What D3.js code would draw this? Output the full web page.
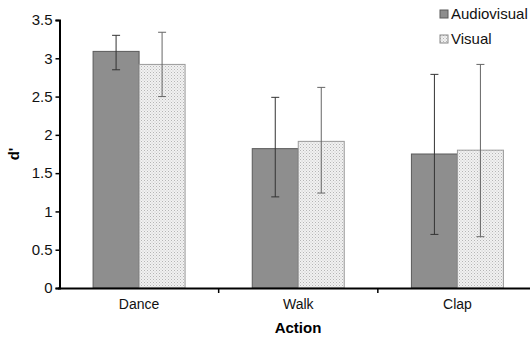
<!DOCTYPE html>
<html>
<head>
<meta charset="utf-8">
<script src="https://cdn.jsdelivr.net/npm/d3@7"></script>
<style>
  body { margin: 0; background: #fff; }
  svg { display: block; font-family: "Liberation Sans", Arial, sans-serif; }
</style>
</head>
<body>
<svg id="chart" width="530" height="342"></svg>
<script>
// values
var actions = ["Dance", "Walk", "Clap"];
var seriesNames = ["Audiovisual", "Visual"];
var audiovisual = [3.09, 1.82, 1.75];
var visual = [2.92, 1.915, 1.80];
var avUpper = [3.30, 2.49, 2.79];
var avLower = [2.85, 1.19, 0.70];
var visUpper = [3.34, 2.62, 2.92];
var visLower = [2.50, 1.24, 0.67];
var yTicks = [0, 0.5, 1, 1.5, 2, 2.5, 3, 3.5];

width = 530;
height = 342;

var svg = d3.select("#chart");

// stipple fill for the Visual bars
var defs = svg.append("defs");
var pat = defs.append("pattern")
    .attr("id", "dots")
    .attr("width", 3).attr("height", 3)
    .attr("patternUnits", "userSpaceOnUse");
pat.append("rect").attr("width", 3).attr("height", 3).attr("fill", "#f1f1f1");
pat.append("rect").attr("x", 0).attr("y", 0).attr("width", 1).attr("height", 1).attr("fill", "#b5b5b5");
pat.append("rect").attr("x", 1.5).attr("y", 1.5).attr("width", 1).attr("height", 1).attr("fill", "#c8c8c8");

const x0 = d3.scaleBand().domain(actions).range([59.5, 537]).paddingInner(0).paddingOuter(0);
const yScale = d3.scaleLinear().domain([0, 3.5]).range([288, 20]);

var barW = 46;

var data = actions.map(function (a, i) {
    return [
        { action: a, series: 0, value: audiovisual[i], hi: avUpper[i], lo: avLower[i] },
        { action: a, series: 1, value: visual[i], hi: visUpper[i], lo: visLower[i] }
    ];
}).flat();

function barX(d) {
    return x0(d.action) + x0.bandwidth() / 2 - barW + d.series * barW;
}

svg.selectAll(".bar")
    .data(data)
    .enter().append("rect")
    .attr("class", "bar")
    .attr("x", barX)
    .attr("y", d => yScale(d.value))
    .attr("width", barW)
    .attr("height", d => yScale(0) - yScale(d.value))
    .attr("fill", d => d.series == 0 ? "#8e8e8e" : "url(#dots)")
    .attr("stroke", d => d.series == 0 ? "#5a5a5a" : "#9a9a9a")
    .attr("stroke-width", 1);

// error bars
var errs = svg.selectAll(".err")
    .data(data)
    .enter().append("g")
    .attr("class", "err")
    .attr("stroke", d => d.series == 0 ? "#333" : "#666")
    .attr("stroke-width", 1);

errs.append("line")
    .attr("x1", d => barX(d) + barW / 2)
    .attr("x2", d => barX(d) + barW / 2)
    .attr("y1", d => yScale(d.hi))
    .attr("y2", d => yScale(d.lo));
errs.append("line")
    .attr("x1", d => barX(d) + barW / 2 - 4)
    .attr("x2", d => barX(d) + barW / 2 + 4)
    .attr("y1", d => yScale(d.hi))
    .attr("y2", d => yScale(d.hi));
errs.append("line")
    .attr("x1", d => barX(d) + barW / 2 - 4)
    .attr("x2", d => barX(d) + barW / 2 + 4)
    .attr("y1", d => yScale(d.lo))
    .attr("y2", d => yScale(d.lo));

// y axis
const yAxis = d3.axisLeft(yScale).tickValues(yTicks).tickSize(4).tickPadding(3)
    .tickFormat(d => String(d));
var gy = svg.append("g")
    .attr("transform", "translate(59.5,0)")
    .call(yAxis);
gy.select(".domain").attr("stroke", "#000").attr("stroke-width", 2);
gy.selectAll(".tick line").attr("stroke", "#000").attr("stroke-width", 1.5);
gy.selectAll(".tick text").attr("font-size", 15).attr("fill", "#111")
    .attr("font-family", "Liberation Sans, Arial, sans-serif");

// x axis
const xAxis = d3.axisBottom(x0).tickSize(0).tickPadding(11);
var gx = svg.append("g")
    .attr("transform", "translate(0,288)")
    .call(xAxis);
gx.select(".domain").remove();
gx.selectAll(".tick text").attr("font-size", 14).attr("fill", "#111")
    .attr("font-family", "Liberation Sans, Arial, sans-serif");
svg.append("line")
    .attr("x1", 58).attr("x2", 530)
    .attr("y1", 288.5).attr("y2", 288.5)
    .attr("stroke", "#000").attr("stroke-width", 2);
// category boundary ticks
svg.selectAll(".btick")
    .data(actions.slice(1))
    .enter().append("line")
    .attr("x1", d => x0(d)).attr("x2", d => x0(d))
    .attr("y1", 288).attr("y2", 293)
    .attr("stroke", "#000").attr("stroke-width", 1.5);

// axis titles
svg.append("text")
    .attr("x", 298).attr("y", 333)
    .attr("text-anchor", "middle")
    .attr("font-size", 15).attr("font-weight", "bold")
    .text("Action");
svg.append("text")
    .attr("transform", "translate(19,154) rotate(-90)")
    .attr("text-anchor", "middle")
    .attr("font-size", 15).attr("font-weight", "bold")
    .text("d'");

// legend
var leg = svg.selectAll(".leg")
    .data(seriesNames)
    .enter().append("g")
    .attr("class", "leg")
    .attr("transform", (d, i) => "translate(440," + (10 + i * 25) + ")");
leg.append("rect")
    .attr("width", 8).attr("height", 8)
    .attr("fill", (d, i) => i == 0 ? "#8e8e8e" : "url(#dots)")
    .attr("stroke", (d, i) => i == 0 ? "#5a5a5a" : "#888");
leg.append("text")
    .attr("x", 11).attr("y", 9)
    .attr("font-size", 15).attr("fill", "#111")
    .text(d => d);
</script>
</body>
</html>
